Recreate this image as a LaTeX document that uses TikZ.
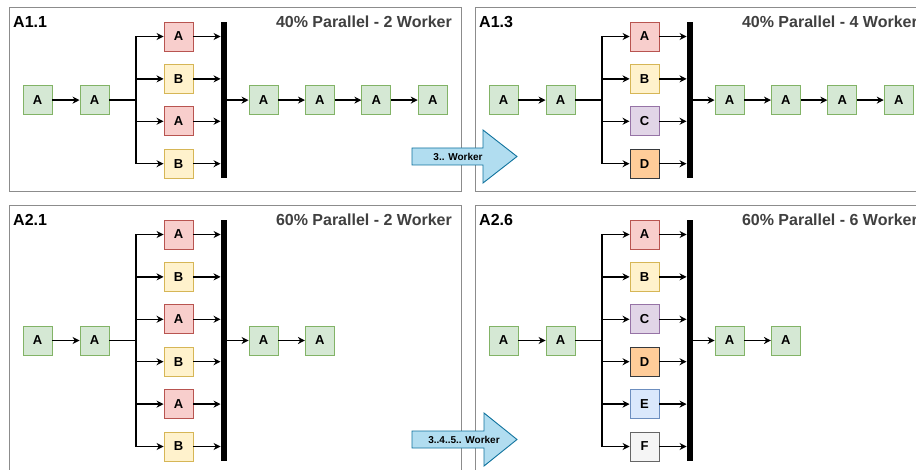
\documentclass[tikz,border=0pt]{standalone}
\usepackage{fontspec}
\setmainfont{Liberation Sans}
\usetikzlibrary{arrows.meta}
\definecolor{gfill}{HTML}{D5E8D4}\definecolor{gdraw}{HTML}{82B366}
\definecolor{rfill}{HTML}{F8CECC}\definecolor{rdraw}{HTML}{B85450}
\definecolor{yfill}{HTML}{FFF2CC}\definecolor{ydraw}{HTML}{D6B656}
\definecolor{pfill}{HTML}{E1D5E7}\definecolor{pdraw}{HTML}{9673A6}
\definecolor{ofill}{HTML}{FFCC99}\definecolor{odraw}{HTML}{36393D}
\definecolor{efill}{HTML}{DAE8FC}\definecolor{edraw}{HTML}{6C8EBF}
\definecolor{ffill}{HTML}{F5F5F5}\definecolor{fdraw}{HTML}{666666}
\definecolor{bafill}{HTML}{B1DDF0}\definecolor{badraw}{HTML}{10739E}
\definecolor{panelgray}{HTML}{8C8C8C}
\definecolor{titlegray}{HTML}{404040}
\tikzset{
  panel/.style={draw=panelgray, line width=1pt},
  box/.style={rectangle, minimum width=29pt, minimum height=29pt, inner sep=0pt,
    line width=0.9pt, font=\bfseries\fontsize{13}{13}\selectfont},
  gbox/.style={box, fill=gfill, draw=gdraw},
  rbox/.style={box, fill=rfill, draw=rdraw},
  ybox/.style={box, fill=yfill, draw=ydraw},
  pbox/.style={box, fill=pfill, draw=pdraw},
  obox/.style={box, fill=ofill, draw=odraw},
  ebox/.style={box, fill=efill, draw=edraw},
  fbox/.style={box, fill=ffill, draw=fdraw},
  syncbar/.style={rectangle, fill=black, draw=none, minimum width=6.5pt, inner sep=0pt},
  arr/.style={-{Stealth[length=7pt,width=7pt]}, line width=1.3pt},
  plainline/.style={line width=1.3pt},
  idlabel/.style={font=\bfseries\fontsize{16}{16}\selectfont, inner sep=0pt},
  headlabel/.style={font=\bfseries\fontsize{16}{16}\selectfont, text=titlegray, inner sep=0pt},
  blockarrow/.style={fill=bafill, draw=badraw, line width=0.9pt, line join=miter},
  arrowtext/.style={font=\bfseries\fontsize{10}{10}\selectfont, inner sep=0pt},
}
% #1 shift, #2 prefix, #3 right x, #4 bottom y, #5 id, #6 title, #7 rows, #8 list, #9 after
\newcommand\mypanel[9]{%
\begin{scope}[shift={#1}, name prefix=#2-]
  \draw[panel] (9,8) rectangle (#3,#4);
  \node[idlabel, anchor=west] (id) at (13,22) {#5};
  \node[headlabel, anchor=east] (head) at (452,22) {#6};
  \pgfmathsetmacro\mainy{36.5+42.4*(#7-1)/2}
  \pgfmathsetmacro\barlen{36.5+42.4*(#7-1)+14-22}
  \node[gbox] (a1) at (37.5,\mainy) {A};
  \node[gbox] (a2) at (94.5,\mainy) {A};
  \coordinate (fork) at (136,\mainy);
  \node[syncbar, minimum height=\barlen pt, anchor=north] (bar) at (224,22) {};
  \draw[arr] (a1) -- (a2);
  \draw[plainline] (a2.east) -- (fork);
  \foreach \s/\t [count=\i] in {#8} {
    \node[\s] (p\i) at (178.5,{36.5+42.4*(\i-1)}) {\t};
    \draw[arr] (fork) |- (p\i.west);
    \draw[arr] (p\i.east) -- (p\i.east -| bar.west);
  }
  \foreach \j in {1,...,#9} {
    \node[gbox] (b\j) at ({263.5+56.4*(\j-1)},\mainy) {A};
  }
  \draw[arr] (bar.east |- b1.west) -- (b1.west);
  \foreach \j [remember=\j as \k (initially 1)] in {2,...,#9} {
    \draw[arr] (b\k) -- (b\j);
  }
\end{scope}}
\begin{document}
\begin{tikzpicture}[x=1pt,y=-1pt]
  \useasboundingbox (0,0) rectangle (916,470);
  \clip (0,0) rectangle (916,470);
  \fill[white] (0,0) rectangle (916,470);
  \mypanel{(0,0)}{tl}{461}{192}{A1.1}{40\% Parallel - 2 Worker}{4}{rbox/A,ybox/B,rbox/A,ybox/B}{4}
  \mypanel{(466,0)}{tr}{480}{192}{A1.3}{40\% Parallel - 4 Worker}{4}{rbox/A,ybox/B,pbox/C,obox/D}{4}
  \mypanel{(0,198)}{bl}{461}{300}{A2.1}{60\% Parallel - 2 Worker}{6}{rbox/A,ybox/B,rbox/A,ybox/B,rbox/A,ybox/B}{2}
  \mypanel{(466,198)}{br}{480}{300}{A2.6}{60\% Parallel - 6 Worker}{6}{rbox/A,ybox/B,pbox/C,obox/D,ebox/E,fbox/F}{2}
  % block arrows
  \draw[blockarrow] (412,148) -- (483,148) -- (483,130) -- (517,156.5) -- (483,183) -- (483,165) -- (412,165) -- cycle;
  \node[arrowtext] (w1) at (458,156.5) {3.. Worker};
  \draw[blockarrow] (412,431) -- (484,431) -- (484,413) -- (517,439.5) -- (484,466) -- (484,448) -- (412,448) -- cycle;
  \node[arrowtext] (w2) at (464,439.5) {3..4..5.. Worker};
\end{tikzpicture}
\end{document}
